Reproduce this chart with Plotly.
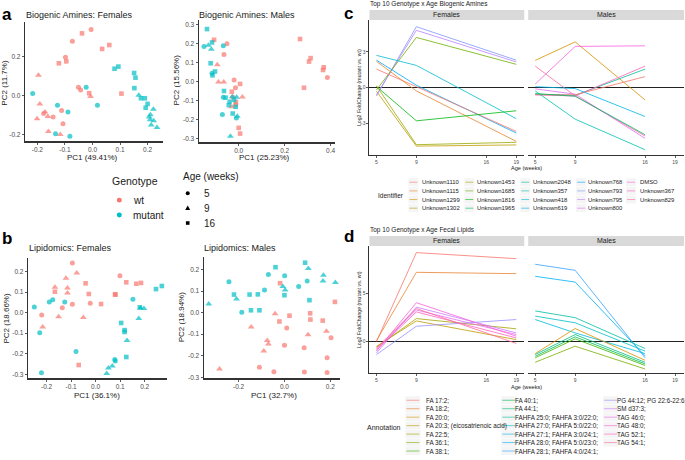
import math
import plotly.graph_objects as go

W, H = 685, 460
def px(x): return x / W
def py(y): return 1 - y / H

# ---------------- DATA ----------------
# a: Biogenic Amines, Females
ba_f_pc1 = [-0.005, -0.038, -0.073, 0.061, 0.035, -0.098, -0.095, -0.122, -0.196, -0.051, -0.043, -0.012,
            -0.007, 0.105, -0.191, -0.112, -0.172, -0.177, -0.162, -0.143, -0.201, -0.107, -0.16, -0.117,
            -0.217, -0.023, -0.127, -0.089, 0.018, -0.134, -0.082, 0.08, 0.094, 0.151, 0.156, 0.152,
            0.168, 0.176, 0.19, 0.2, 0.193, 0.221, 0.21, 0.206, 0.209, 0.222, 0.213, 0.234]
ba_f_pc2 = [0.34, 0.32, 0.28, 0.26, 0.24, 0.197, 0.176, 0.166, 0.104, 0.043, 0.029, 0.012,
            -0.005, 0.01, -0.043, -0.077, -0.085, -0.092, -0.108, -0.111, -0.12, -0.145, -0.185, -0.2,
            0.01, 0.043, -0.05, -0.085, -0.05, -0.197, -0.21, 0.138, 0.149, 0.116, 0.092, 0.038,
            0.002, -0.014, -0.014, -0.043, -0.063, -0.07, -0.099, -0.111, -0.125, -0.13, -0.152, -0.164]
ba_f_geno = ["wt"] * 24 + ["mutant"] * 24
ba_f_age = [5, 16, 5, 16, 16, 5, 16, 16, 9, 5, 5, 16, 9, 16, 9, 5, 9, 5, 9, 5, 9, 5, 9, 9,
            5, 5, 5, 5, 5, 5, 5, 16, 16, 16, 16, 16, 9, 16, 16, 16, 16, 9, 9, 9, 9, 9, 9, 9]

# a: Biogenic Amines, Males
ba_m_pc1 = [-0.138, -0.151, -0.132, -0.116, -0.119, -0.067, -0.122, -0.103, -0.116, -0.114, -0.064, -0.067,
            -0.057, -0.039, -0.043, -0.028, -0.02, -0.013, -0.009, -0.071, -0.026, -0.01, -0.006, -0.036,
            -0.107, -0.051, -0.064, -0.093, -0.088, -0.065, -0.02, 0.006, -0.014, -0.03, 0.016, -0.025,
            -0.012, -0.013, -0.03, 0.0, 0.006, 0.267, 0.306, 0.313, 0.284, 0.367, 0.37, 0.386]
ba_m_pc2 = [0.275, 0.184, 0.191, 0.205, 0.17, 0.188, 0.096, 0.053, 0.044, 0.033, -0.049, -0.082,
            -0.084, -0.105, -0.123, -0.079, -0.096, -0.132, -0.082, -0.172, -0.167, -0.19, -0.181, -0.286,
            0.219, 0.198, 0.142, 0.088, -0.002, -0.002, 0.009, -0.012, -0.032, -0.053, -0.081, -0.082,
            -0.107, -0.121, -0.132, -0.242, -0.272, 0.223, 0.105, 0.123, -0.032, 0.061, 0.075, 0.021]
ba_m_geno = ["mutant"] * 24 + ["wt"] * 24
ba_m_age = [16, 5, 9, 16, 9, 5, 16, 16, 5, 16, 16, 5, 16, 5, 16, 9, 5, 16, 9, 5, 16, 5, 9, 9,
            16, 5, 5, 9, 9, 9, 5, 16, 5, 16, 9, 5, 16, 5, 9, 16, 16, 16, 16, 16, 16, 16, 16, 5]

# b: Lipidomics, Females
lp_f_pc1 = [-0.095, -0.077, -0.121, -0.166, -0.166, -0.115, -0.115, -0.136, -0.095, -0.041, -0.028, -0.022,
            0.022, 0.079, 0.081, 0.099, 0.125, 0.166, 0.185, -0.22, -0.216, -0.151, -0.05, -0.069,
            -0.25, -0.189, -0.175, -0.126, -0.228, -0.221, -0.08, 0.104, 0.118, 0.118, 0.152, 0.18,
            0.183, 0.197, 0.176, 0.128, 0.125, 0.246, 0.27, 0.078, 0.08, 0.068, 0.052, 0.045]
lp_f_pc2 = [0.242, 0.193, 0.168, 0.124, 0.102, 0.12, 0.096, 0.024, 0.041, 0.143, 0.091, 0.046,
            0.042, 0.089, 0.088, 0.18, 0.148, 0.141, 0.145, -0.011, -0.07, -0.02, -0.024, -0.255,
            0.028, 0.052, 0.063, 0.052, -0.098, -0.293, -0.189, -0.05, -0.085, -0.094, 0.065, 0.026,
            0.023, 0.02, -0.028, -0.135, -0.216, 0.115, 0.13, -0.228, -0.236, -0.26, -0.27, -0.296]
lp_f_geno = ["wt"] * 24 + ["mutant"] * 24
lp_f_age = [5, 9, 9, 9, 16, 9, 9, 5, 5, 16, 16, 5, 16, 16, 16, 5, 16, 16, 16, 5, 9, 9, 9, 16,
            5, 5, 5, 5, 5, 5, 5, 16, 16, 16, 5, 16, 9, 9, 9, 9, 16, 16, 16, 5, 5, 9, 9, 9]

# b: Lipidomics, Males
lp_m_pc1 = [-0.33, -0.242, -0.22, -0.209, -0.186, -0.152, -0.146, -0.116, -0.109, -0.087, -0.07, -0.039,
            -0.007, 0.001, 0.003, 0.0, 0.062, 0.09, 0.104, 0.099, 0.109, 0.17, 0.168, 0.222,
            -0.019, 0.22, -0.041, -0.022, 0.022, 0.112, 0.113, 0.01, 0.167, -0.145, 0.103, 0.183,
            0.203, -0.075, -0.07, -0.09, 0.0, 0.086, 0.186, -0.109, -0.046, 0.087, 0.186, -0.283]
lp_m_pc2 = [0.04, 0.143, 0.084, 0.064, 0.002, 0.084, 0.011, 0.085, 0.011, 0.105, 0.177, 0.211,
            0.122, 0.171, 0.105, 0.081, 0.122, 0.232, 0.205, 0.147, 0.058, 0.174, 0.147, 0.14,
            0.137, 0.05, -0.005, -0.041, -0.014, -0.003, -0.032, -0.071, -0.037, -0.066, -0.102, -0.086,
            -0.117, -0.129, -0.145, -0.178, -0.151, -0.163, -0.209, -0.254, -0.274, -0.275, -0.278, -0.262]
lp_m_geno = ["mutant"] * 24 + ["wt"] * 24
lp_m_age = [9, 5, 16, 9, 5, 16, 16, 16, 16, 5, 5, 16, 9, 5, 9, 16, 5, 16, 9, 5, 16, 9, 9, 9,
            16, 16, 9, 16, 16, 16, 16, 5, 16, 9, 9, 9, 5, 9, 9, 9, 5, 5, 5, 5, 5, 5, 5, 9]

# c: Top 10 Genotype x Age Biogenic Amines
c_identifiers = ["Unknown1110", "Unknown1115", "Unknown1299", "Unknown1302", "Unknown1453", "Unknown1685",
                 "Unknown1816", "Unknown1965", "Unknown2048", "Unknown357", "Unknown418", "Unknown619",
                 "Unknown768", "Unknown793", "Unknown795", "Unknown800", "DMSO", "Unknown367", "Unknown829"]
c_fem_age = [5, 9, 19]
c_mal_age = [5, 9, 16]
c_fem_ids = ["Unknown793", "Unknown795", "Unknown1685", "Unknown418", "Unknown768", "Unknown1110",
             "Unknown1115", "Unknown1816", "Unknown1453", "Unknown1302"]
c_fem_vals = [[-0.7, 5.1, 2.3], [-0.6, 4.8, 2.15], [-0.2, 4.2, 1.95], [2.7, 1.86, -2.6], [2.3, 0.2, -3.8],
              [1.55, 0.08, -3.67], [2.2, -0.28, -4.5], [0.1, -2.78, -1.94], [0.15, -4.78, -4.58],
              [-0.3, -4.9, -4.8]]
c_mal_ids = ["Unknown1299", "DMSO", "Unknown829", "Unknown800", "Unknown2048", "Unknown367", "Unknown1110",
             "Unknown619", "Unknown357", "Unknown1965"]
c_mal_vals = [[2.28, 3.83, -1.03], [0.3, 3.45, 3.5], [1.8, -0.7, -4.05], [-0.1, -0.55, -4.25],
              [-0.55, -0.65, 1.55], [-0.6, -0.7, 1.8], [-0.6, -0.6, 0.92], [0.08, -0.08, -2.42],
              [-0.28, -2.64, -5.2], [-0.5, -0.72, -3.94]]

# d: Top 10 Genotype x Age Fecal Lipids
d_annotations = ["FA 17:2;", "FA 18:2;", "FA 20:0;", "FA 20:3; (eicosatrienoic acid)", "FA 22:5;", "FA 36:1;",
                 "FA 38:1;", "FA 40:1;", "FA 44:1;", "FAHFA 25:0; FAHFA 3:0/22:0;", "FAHFA 27:0; FAHFA 5:0/22:0;",
                 "FAHFA 27:1; FAHFA 3:0/24:1;", "FAHFA 28:0; FAHFA 5:0/23:0;", "FAHFA 28:1; FAHFA 4:0/24:1;",
                 "PG 44:12; PG 22:6-22:6;", "SM d37:3;", "TAG 46:0;", "TAG 48:0;", "TAG 52:1;", "TAG 54:1;"]
d_fem_age = [5, 9, 19]
d_mal_age = [5, 9, 16]
d_fem_ids = ["FA 17:2;", "FA 18:2;", "FA 20:3; (eicosatrienoic acid)", "FA 22:5;", "PG 44:12; PG 22:6-22:6;",
             "SM d37:3;", "TAG 46:0;", "TAG 48:0;", "TAG 52:1;", "TAG 54:1;"]
d_fem_vals = [[0.0, 9.3, 8.67], [0.1, 7.24, 7.1], [-0.5, 2.15, 0.2], [-0.6, 2.4, 1.33], [-1.36, 1.6, 2.3],
              [-1.2, 3.6, 0.9], [-0.8, 3.3, 0.73], [-1.0, 4.06, 0.56], [-0.9, 3.1, 0.38], [-0.7, 3.45, -0.2]]
d_mal_ids = ["FAHFA 28:1; FAHFA 4:0/24:1;", "FAHFA 28:0; FAHFA 5:0/23:0;", "FAHFA 25:0; FAHFA 3:0/22:0;",
             "FAHFA 27:0; FAHFA 5:0/22:0;", "FAHFA 27:1; FAHFA 3:0/24:1;", "FA 20:0;", "FA 44:1;",
             "FA 40:1;", "FA 38:1;", "FA 36:1;"]
d_mal_vals = [[8.08, 7.45, -1.7], [6.82, 6.22, -1.5], [3.2, 2.5, -0.73], [2.66, 1.96, -1.0], [2.3, 0.9, -1.26],
              [-1.26, 1.36, -1.96], [-1.36, 0.73, -2.17], [-1.54, 0.49, -2.34], [-1.7, 0.28, -2.5],
              [-2.17, -0.49, -2.87]]

age_ticks = [5, 9, 16, 19]

# ---------------- STYLE HELPERS ----------------
def hcl_hex(h, c=100, l=65):
    hr = math.radians(h)
    U, V = c * math.cos(hr), c * math.sin(hr)
    Xn, Yn, Zn = 95.047, 100.0, 108.883
    den = Xn + 15 * Yn + 3 * Zn
    un, vn = 4 * Xn / den, 9 * Yn / den
    Y = Yn * ((l + 16) / 116) ** 3
    u, v = U / (13 * l) + un, V / (13 * l) + vn
    X = Y * 9 * u / (4 * v)
    Z = Y * (12 - 3 * u - 20 * v) / (4 * v)
    X, Y, Z = X / 100, Y / 100, Z / 100
    r = 3.2404542 * X - 1.5371385 * Y - 0.4985314 * Z
    g = -0.9692660 * X + 1.8760108 * Y + 0.0415560 * Z
    b = 0.0556434 * X - 0.2040259 * Y + 1.0572252 * Z
    def gam(t):
        t = max(0.0, min(1.0, t))
        return 12.92 * t if t <= 0.0031308 else 1.055 * t ** (1 / 2.4) - 0.055
    return '#%02X%02X%02X' % tuple(int(round(255 * gam(t))) for t in (r, g, b))

def hue_pal(n):
    return [hcl_hex(15 + 360 * i / n) for i in range(n)]

c_colors = dict(zip(c_identifiers, hue_pal(len(c_identifiers))))
d_colors = dict(zip(d_annotations, hue_pal(len(d_annotations))))
geno_colors = {"wt": "#F8766D", "mutant": "#00BFC4"}
age_symbol = {5: "circle", 9: "triangle-up", 16: "square"}
age_size = {5: 5, 9: 6, 16: 4.6}

FONT = "Liberation Sans, Arial, sans-serif"
fig = go.Figure()
layout = dict(width=W, height=H, margin=dict(l=0, r=0, t=0, b=0, pad=0), autosize=False,
              paper_bgcolor="white", plot_bgcolor="white", showlegend=False, hovermode=False,
              font=dict(family=FONT, color="#1A1A1A"))
annotations = []
shapes = []

def text(x, y, s, size, xanchor="left", color="#1A1A1A", angle=0, bold=False):
    annotations.append(dict(x=px(x), y=py(y), xref="paper", yref="paper", text=("<b>%s</b>" % s if bold else s),
                            showarrow=False, xanchor=xanchor, yanchor="middle", textangle=angle,
                            borderpad=0, font=dict(size=size, color=color, family=FONT)))

def axis_pair(i, xdom, ydom, xr, yr, xt, yt, xtl, ytl, tick_font, showy=True, zeroline=False, lw=1.2, tl=2.5):
    xa = dict(domain=[px(xdom[0]), px(xdom[1])], range=xr, anchor="y%d" % i, showgrid=False, zeroline=False,
              showline=True, linecolor="#333333", linewidth=lw, ticks="outside", ticklen=tl, tickwidth=0.8,
              tickcolor="#333333", tickvals=xt, ticktext=xtl, tickfont=dict(size=tick_font, color="#4D4D4D"))
    ya = dict(domain=[py(ydom[1]), py(ydom[0])], range=yr, anchor="x%d" % i, showgrid=False,
              zeroline=zeroline, zerolinecolor="#222222", zerolinewidth=1.1,
              showline=showy, linecolor="#333333", linewidth=lw, ticks="outside" if showy else "",
              ticklen=tl, tickwidth=0.8, tickcolor="#333333", tickvals=yt, ticktext=ytl,
              showticklabels=showy, tickfont=dict(size=tick_font, color="#4D4D4D"))
    layout["xaxis" if i == 1 else "xaxis%d" % i] = xa
    layout["yaxis" if i == 1 else "yaxis%d" % i] = ya

def fmt(v): return "%.1f" % v

# ---------------- PCA PANELS ----------------
pca_panels = [
    (1, ba_f_pc1, ba_f_pc2, ba_f_geno, ba_f_age, (25, 163), (22, 142), [-0.245, 0.255], [-0.236, 0.379],
     [-0.2, -0.1, 0.0, 0.1, 0.2], [-0.2, 0.0, 0.2]),
    (2, ba_m_pc1, ba_m_pc2, ba_m_geno, ba_m_age, (199, 335), (20, 143), [-0.174, 0.417], [-0.318, 0.323],
     [0.0, 0.2, 0.4], [-0.3, -0.2, -0.1, 0.0, 0.1, 0.2, 0.3]),
    (3, lp_f_pc1, lp_f_pc2, lp_f_geno, lp_f_age, (28, 167), (259, 380), [-0.276, 0.29], [-0.32, 0.267],
     [-0.2, -0.1, 0.0, 0.1, 0.2], [-0.3, -0.2, -0.1, 0.0, 0.1, 0.2]),
    (4, lp_m_pc1, lp_m_pc2, lp_m_geno, lp_m_age, (204, 340), (258, 380), [-0.352, 0.24], [-0.305, 0.259],
     [-0.2, 0.0, 0.2], [-0.3, -0.2, -0.1, 0.0, 0.1, 0.2]),
]
for (i, xs, ys, gs, ages, xd, yd, xr, yr, xt, yt) in pca_panels:
    axis_pair(i, xd, yd, xr, yr, xt, yt, [fmt(v) for v in xt], [fmt(v) for v in yt], 6.5, tl=2)
    for g in ["wt", "mutant"]:
        idx = [k for k in range(len(xs)) if gs[k] == g]
        fig.add_trace(go.Scatter(
            x=[xs[k] for k in idx], y=[ys[k] for k in idx], mode="markers",
            xaxis="x%d" % i, yaxis="y%d" % i, cliponaxis=False,
            marker=dict(color=geno_colors[g], symbol=[age_symbol[ages[k]] for k in idx],
                        size=[age_size[ages[k]] for k in idx], line=dict(width=0))))

text(25, 15, "Biogenic Amines: Females", 9)
text(198, 15, "Biogenic Amines: Males", 9)
text(28, 249, "Lipidomics: Females", 9)
text(203, 249, "Lipidomics: Males", 9)
text(93, 158, "PC1 (49.41%)", 8, "center")
text(265, 158, "PC1 (25.23%)", 8, "center")
text(97, 397, "PC1 (36.1%)", 8, "center")
text(274, 397, "PC1 (32.7%)", 8, "center")
text(5, 83, "PC2 (11.7%)", 8, "center", angle=-90)
text(177, 80, "PC2 (15.56%)", 8, "center", angle=-90)
text(7, 319, "PC2 (18.66%)", 8, "center", angle=-90)
text(182, 318, "PC2 (18.94%)", 8, "center", angle=-90)

# PCA legend
text(111, 182, "Genotype", 10.5)
for yy, g in [(201, "wt"), (216, "mutant")]:
    shapes.append(dict(type="circle", xref="paper", yref="paper", x0=px(117), x1=px(122), y0=py(yy + 2.5),
                       y1=py(yy - 2.5), fillcolor=geno_colors[g], line=dict(width=0)))
    text(132, yy, g, 10)
text(182, 177, "Age (weeks)", 10)
shapes.append(dict(type="circle", xref="paper", yref="paper", x0=px(186), x1=px(190), y0=py(196), y1=py(192),
                   fillcolor="black", line=dict(width=0)))
shapes.append(dict(type="path", xref="paper", yref="paper",
                   path="M %f %f L %f %f L %f %f Z" % (px(185.5), py(211), px(190.5), py(211), px(188), py(206.5)),
                   fillcolor="black", line=dict(width=0)))
shapes.append(dict(type="rect", xref="paper", yref="paper", x0=px(186.2), x1=px(189.8), y0=py(225.8), y1=py(222.2),
                   fillcolor="black", line=dict(width=0)))
for yy, s in [(194, "5"), (209, "9"), (224, "16")]:
    text(203, yy, s, 10)

# ---------------- LINE PANELS (c, d) ----------------
def line_panels(i_f, i_m, ages_f, ages_m, ids_f, vals_f, ids_m, vals_m, colors, ytop, ybot, yr, yt):
    axis_pair(i_f, (370, 525), (ytop, ybot), [4.3, 19.8], yr, age_ticks, yt,
              [str(v) for v in age_ticks], [str(v) for v in yt], 5, showy=True, zeroline=True, lw=1.0, tl=2)
    axis_pair(i_m, (529, 685), (ytop, ybot), [4.3, 19.9], yr, age_ticks, yt,
              [str(v) for v in age_ticks], [str(v) for v in yt], 5, showy=False, zeroline=True, lw=1.0, tl=2)
    for ids, vals, ages, i in [(ids_f, vals_f, ages_f, i_f), (ids_m, vals_m, ages_m, i_m)]:
        for name, v in zip(ids, vals):
            fig.add_trace(go.Scatter(x=ages, y=v, mode="lines", xaxis="x%d" % i, yaxis="y%d" % i,
                                     line=dict(color=colors[name], width=1), opacity=0.8, name=name))

line_panels(5, 6, c_fem_age, c_mal_age, c_fem_ids, c_fem_vals, c_mal_ids, c_mal_vals, c_colors,
            20, 156, [-5.67, 5.67], [-3, 0, 3])
line_panels(7, 8, d_fem_age, d_mal_age, d_fem_ids, d_fem_vals, d_mal_ids, d_mal_vals, d_colors,
            247, 375, [-3.33, 10.0], [0, 5])

# strips
for (y0, y1) in [(10, 20), (237, 247)]:
    for (x0, x1, lab) in [(370, 525, "Females"), (529, 685, "Males")]:
        shapes.append(dict(type="rect", xref="paper", yref="paper", x0=px(x0), x1=px(x1), y0=py(y1), y1=py(y0),
                           fillcolor="#D9D9D9", line=dict(width=0), layer="below"))
        text((x0 + x1) / 2, (y0 + y1) / 2, lab, 7, "center")

text(370, 4.5, "Top 10 Genotype x Age Biogenic Amines", 6.5)
text(370, 231, "Top 10 Genotype x Age Fecal Lipids", 6.5)
text(359, 88, "Log2 FoldChange (mutant vs. wt)", 5.2, "center", angle=-90)
text(359, 311, "Log2 FoldChange (mutant vs. wt)", 5.2, "center", angle=-90)
text(527, 168.5, "Age (weeks)", 5.6, "center")
text(527, 388.5, "Age (weeks)", 5.6, "center")

# c legend
text(378, 196, "Identifier", 6.5)
c_key_x = [410, 466, 522, 578, 628]
c_txt_x = [422, 477, 533, 588, 640]
for k, name in enumerate(c_identifiers):
    col, row = k // 4, k % 4
    yy = 183 + 8.7 * row
    shapes.append(dict(type="rect", xref="paper", yref="paper", x0=px(c_key_x[col] - 1), x1=px(c_key_x[col] + 9),
                       y0=py(yy + 4), y1=py(yy - 4), fillcolor="#F5F5F5", line=dict(width=0)))
    shapes.append(dict(type="line", xref="paper", yref="paper", x0=px(c_key_x[col]), x1=px(c_key_x[col] + 8),
                       y0=py(yy), y1=py(yy), line=dict(color=c_colors[name], width=1), opacity=0.6))
    text(c_txt_x[col], yy, name, 5.9)

# d legend
text(367, 429, "Annotation", 7)
d_key_x = [407, 503, 605]
d_txt_x = [426, 515, 617]
for k, name in enumerate(d_annotations):
    col, row = k // 7, k % 7
    yy = 402 + 8.5 * row
    shapes.append(dict(type="rect", xref="paper", yref="paper", x0=px(d_key_x[col] - 1), x1=px(d_key_x[col] + 14),
                       y0=py(yy + 4), y1=py(yy - 4), fillcolor="#F5F5F5", line=dict(width=0)))
    shapes.append(dict(type="line", xref="paper", yref="paper", x0=px(d_key_x[col]), x1=px(d_key_x[col] + 13),
                       y0=py(yy), y1=py(yy), line=dict(color=d_colors[name], width=1), opacity=0.6))
    text(d_txt_x[col], yy, name, 6.3)

# panel letters
text(1, 15, "a", 17, bold=True, color="black")
text(1, 240, "b", 17, bold=True, color="black")
text(344, 14, "c", 17, bold=True, color="black")
text(344, 238, "d", 17, bold=True, color="black")

layout["annotations"] = annotations
layout["shapes"] = shapes
fig.update_layout(**layout)
fig.write_html("out.html", config={"displayModeBar": False, "staticPlot": True},
               post_script="document.body.style.margin='0';document.body.style.padding='0';")
